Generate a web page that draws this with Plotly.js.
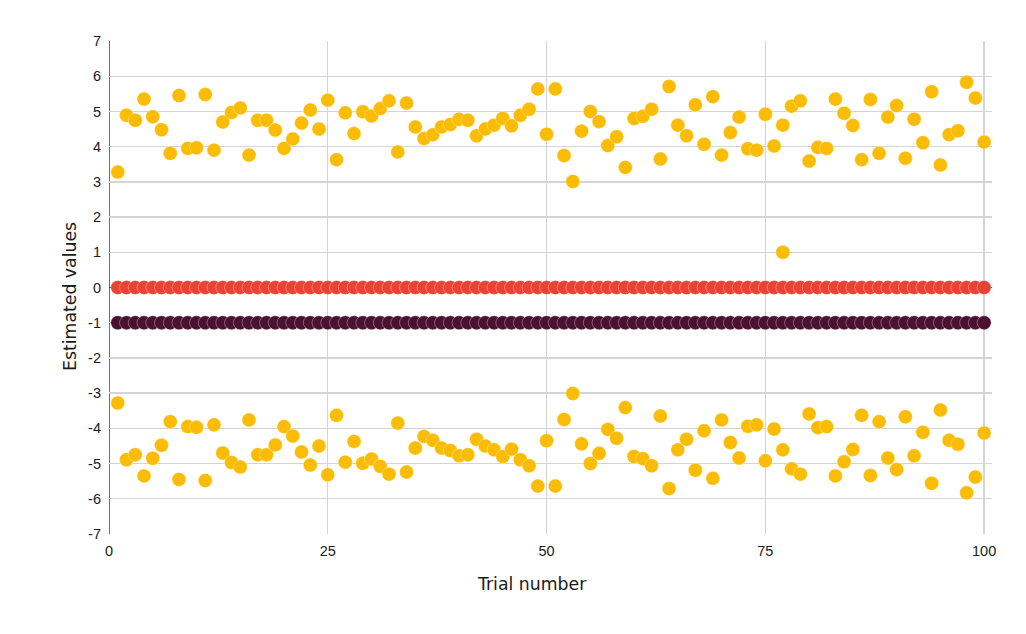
<!DOCTYPE html>
<html>
<head>
<meta charset="utf-8">
<script src="https://cdn.plot.ly/plotly-3.0.1.min.js"></script>
<style>html,body{margin:0;padding:0;background:#fff;}#chart{width:1026px;height:634px;}</style>
</head>
<body>
<div id="chart"></div>
<script>
const trials = [1,2,3,4,5,6,7,8,9,10,11,12,13,14,15,16,17,18,19,20,21,22,23,24,25,26,27,28,29,30,31,32,33,34,35,36,37,38,39,40,41,42,43,44,45,46,47,48,49,50,51,52,53,54,55,56,57,58,59,60,61,62,63,64,65,66,67,68,69,70,71,72,73,74,75,76,77,78,79,80,81,82,83,84,85,86,87,88,89,90,91,92,93,94,95,96,97,98,99,100];

const upperEstimates = [3.28,4.89,4.75,5.35,4.85,4.48,3.81,5.45,3.95,3.97,5.48,3.90,4.70,4.97,5.10,3.76,4.75,4.75,4.47,3.95,4.22,4.67,5.04,4.50,5.32,3.63,4.96,4.37,4.99,4.87,5.08,5.30,3.85,5.24,4.56,4.23,4.34,4.56,4.63,4.78,4.75,4.31,4.50,4.61,4.80,4.59,4.89,5.06,5.64,4.35,5.64,3.75,3.01,4.44,5.00,4.71,4.03,4.28,3.41,4.80,4.86,5.06,3.65,5.71,4.61,4.31,5.19,4.07,5.42,3.76,4.40,4.84,3.94,3.90,4.92,4.02,4.61,5.15,5.30,3.59,3.98,3.95,5.35,4.95,4.60,3.63,5.34,3.81,4.84,5.17,3.67,4.78,4.11,5.56,3.48,4.34,4.45,5.83,5.38,4.13];

const lowerEstimates = [-3.28,-4.89,-4.75,-5.35,-4.85,-4.48,-3.81,-5.45,-3.95,-3.97,-5.48,-3.90,-4.70,-4.97,-5.10,-3.76,-4.75,-4.75,-4.47,-3.95,-4.22,-4.67,-5.04,-4.50,-5.32,-3.63,-4.96,-4.37,-4.99,-4.87,-5.08,-5.30,-3.85,-5.24,-4.56,-4.23,-4.34,-4.56,-4.63,-4.78,-4.75,-4.31,-4.50,-4.61,-4.80,-4.59,-4.89,-5.06,-5.64,-4.35,-5.64,-3.75,-3.01,-4.44,-5.00,-4.71,-4.03,-4.28,-3.41,-4.80,-4.86,-5.06,-3.65,-5.71,-4.61,-4.31,-5.19,-4.07,-5.42,-3.76,-4.40,-4.84,-3.94,-3.90,-4.92,-4.02,-4.61,-5.15,-5.30,-3.59,-3.98,-3.95,-5.35,-4.95,-4.60,-3.63,-5.34,-3.81,-4.84,-5.17,-3.67,-4.78,-4.11,-5.56,-3.48,-4.34,-4.45,-5.83,-5.38,-4.13];

const outlierTrial = [77];
const outlierValue = [1.0];

const zeroEstimates = [0,0,0,0,0,0,0,0,0,0,0,0,0,0,0,0,0,0,0,0,0,0,0,0,0,0,0,0,0,0,0,0,0,0,0,0,0,0,0,0,0,0,0,0,0,0,0,0,0,0,0,0,0,0,0,0,0,0,0,0,0,0,0,0,0,0,0,0,0,0,0,0,0,0,0,0,0,0,0,0,0,0,0,0,0,0,0,0,0,0,0,0,0,0,0,0,0,0,0,0];

const minusOneEstimates = [-1,-1,-1,-1,-1,-1,-1,-1,-1,-1,-1,-1,-1,-1,-1,-1,-1,-1,-1,-1,-1,-1,-1,-1,-1,-1,-1,-1,-1,-1,-1,-1,-1,-1,-1,-1,-1,-1,-1,-1,-1,-1,-1,-1,-1,-1,-1,-1,-1,-1,-1,-1,-1,-1,-1,-1,-1,-1,-1,-1,-1,-1,-1,-1,-1,-1,-1,-1,-1,-1,-1,-1,-1,-1,-1,-1,-1,-1,-1,-1,-1,-1,-1,-1,-1,-1,-1,-1,-1,-1,-1,-1,-1,-1,-1,-1,-1,-1,-1,-1];

const xTicks = [0,25,50,75,100];
const yTicks = [-7,-6,-5,-4,-3,-2,-1,0,1,2,3,4,5,6,7];
const xTitle = 'Trial number';
const yTitle = 'Estimated values';

const YELLOW = '#FBBC05';
const RED = '#EA4335';
const DARK = '#4A1130';
const outline = {width: 0.6, color: 'rgba(255,255,255,0.55)'};
const MS = 14;
const TICKFONT = {family: '"Liberation Sans", Arial, sans-serif', size: 14.5, color: '#1a1a1a'};
const TITLEFONT = {family: '"DejaVu Sans", Verdana, sans-serif', size: 17.3, color: '#1a1a1a'};

const traces = [
  {x: trials, y: upperEstimates, mode: 'markers', type: 'scatter', marker: {color: YELLOW, size: MS, line: outline}},
  {x: outlierTrial, y: outlierValue, mode: 'markers', type: 'scatter', marker: {color: YELLOW, size: MS, line: outline}},
  {x: trials, y: lowerEstimates, mode: 'markers', type: 'scatter', marker: {color: YELLOW, size: MS, line: outline}},
  {x: trials, y: zeroEstimates, mode: 'markers', type: 'scatter', marker: {color: RED, size: MS, line: outline}},
  {x: trials, y: minusOneEstimates, mode: 'markers', type: 'scatter', marker: {color: DARK, size: MS, line: outline}}
];

const layout = {
  width: 1026, height: 634,
  margin: {l: 109, r: 34, t: 41, b: 100},
  paper_bgcolor: '#ffffff', plot_bgcolor: '#ffffff',
  showlegend: false,
  font: TICKFONT,
  xaxis: {
    range: [0, 100.9],
    tickvals: xTicks, ticktext: xTicks.map(String),
    showgrid: true, gridcolor: '#d4d4d4', gridwidth: 1.3,
    zeroline: false, showline: false,
    ticks: '', ticklabelstandoff: 6,
    tickfont: TICKFONT
  },
  yaxis: {
    range: [-7, 7],
    tickvals: yTicks, ticktext: yTicks.map(String),
    showgrid: true, gridcolor: '#d4d4d4', gridwidth: 1.3,
    zeroline: true, zerolinecolor: '#333', zerolinewidth: 1,
    showline: false,
    ticks: '', ticklabelstandoff: 7,
    tickfont: TICKFONT
  },
  annotations: [
    {text: xTitle, xref: 'paper', yref: 'paper', x: 0.4785, y: -0.1014, xanchor: 'center', yanchor: 'middle', showarrow: false, font: TITLEFONT},
    {text: yTitle, xref: 'paper', yref: 'paper', x: -0.0442, y: 0.4828, xanchor: 'center', yanchor: 'middle', textangle: -90, showarrow: false, font: TITLEFONT}
  ],
  shapes: [
    {type: 'line', xref: 'x', yref: 'paper', x0: 0, x1: 0, y0: 0, y1: 1, line: {color: '#222', width: 1.3}, layer: 'below'}
  ]
};

Plotly.newPlot('chart', traces, layout, {displayModeBar: false, staticPlot: true});
</script>
</body>
</html>
